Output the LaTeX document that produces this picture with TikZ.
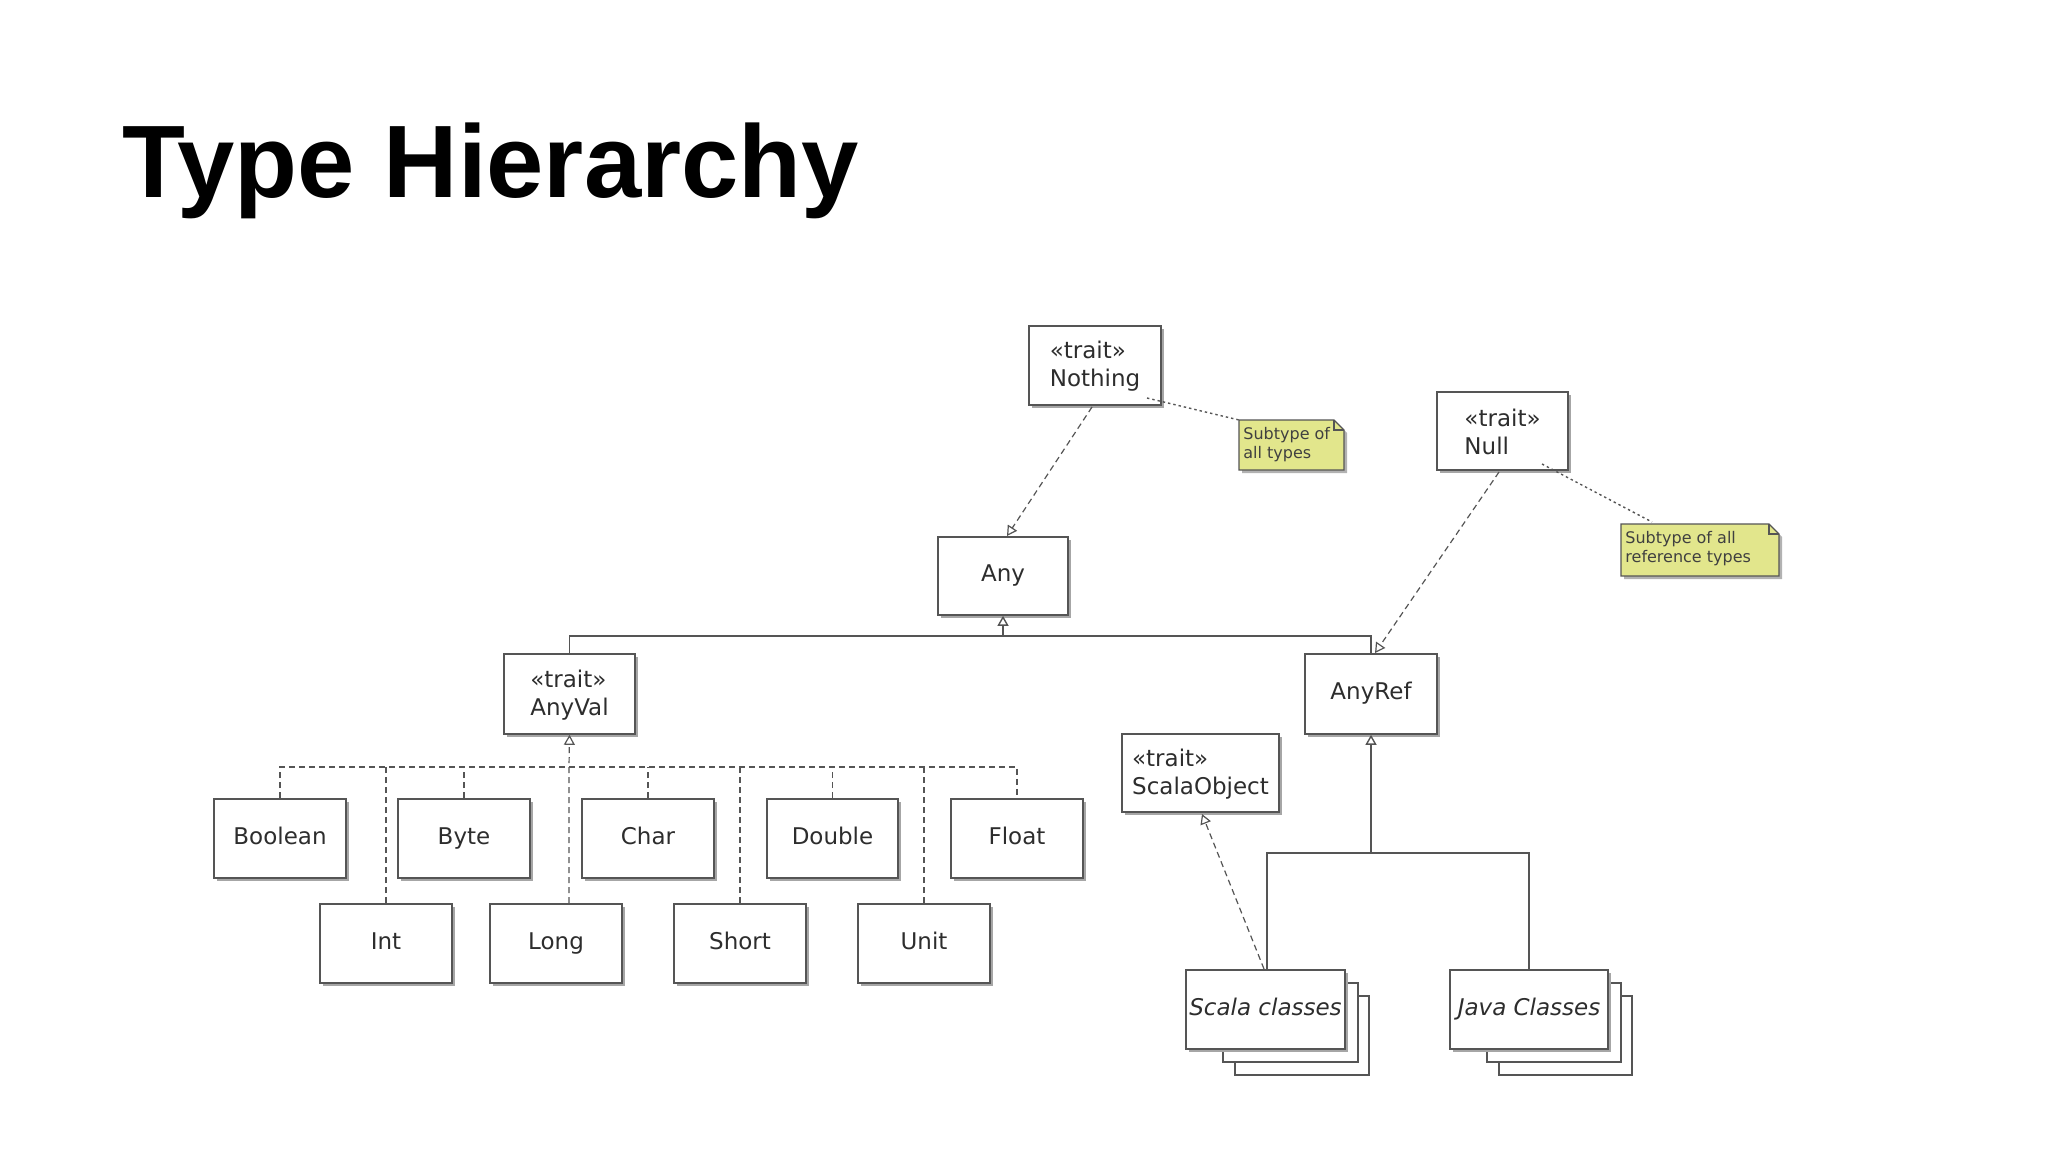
\documentclass[tikz,border=0pt]{standalone}
\usepackage{fontspec}
\setmainfont{DejaVu Sans}
\newfontfamily\titlefont{Liberation Sans}
\usetikzlibrary{arrows.meta,shadows}
\definecolor{ln}{RGB}{85,85,85}
\definecolor{tx}{RGB}{45,45,45}
\definecolor{notey}{RGB}{226,230,140}
\tikzset{
 box/.style={draw=ln,fill=white,line width=0.8pt,text=tx,font=\fontsize{11.5}{14}\selectfont,align=left,inner sep=0pt,
   general shadow={shadow xshift=1.5pt,shadow yshift=-1.5pt,fill=black!35}},
 inh/.style={draw=ln,line width=0.7pt,-{Triangle[open,length=5pt,width=5.5pt]}},
 sol/.style={draw=ln,line width=0.7pt},
 dsh/.style={draw=ln,line width=0.6pt,dash pattern=on 3pt off 2pt},
 dot/.style={draw=ln,line width=0.7pt,dash pattern=on 1.2pt off 1.5pt},
 notet/.style={text=black!75,font=\fontsize{8}{9.5}\selectfont,align=left,inner sep=0pt,anchor=north west},
}
\newcommand{\bx}[7][]{%
 \node[box,#1,minimum width={(#4-#2)*0.5pt},minimum height={(#5-#3)*0.5pt}] (#6) at ({(#2+#4)/2},{(#3+#5)/2}) {\strut#7};}
\newcommand{\stk}[4]{%
 \draw[sol,fill=white] (#1+49,#2+26) rectangle (#3+24,#4+26);
 \draw[sol,fill=white] (#1+37,#2+13) rectangle (#3+13,#4+13);}
\newcommand{\nt}[6]{%
 \path[draw=ln,line width=0.6pt,fill=notey,general shadow={shadow xshift=1.5pt,shadow yshift=-1.5pt,fill=black!30}] (#2,#3) -- (#4-10,#3) -- (#4,#3+10) -- (#4,#5) -- (#2,#5) -- cycle;
 \draw[ln,line width=0.6pt] (#4-10,#3) -- (#4-10,#3+10) -- (#4,#3+10);
 \coordinate (#1) at (#2,#3);
 \node[notet] (#1t) at (#2+4,#3+7) {#6};}
\begin{document}
\begin{tikzpicture}[x=0.5pt,y=-0.5pt]
\useasboundingbox (0,0) rectangle (2048,1152);
\node[anchor=base west,inner sep=0pt,font=\titlefont\bfseries\fontsize{51.5}{53}\selectfont] (title) at (122,197) {Type Hierarchy};
% boxes
\bx{1029}{326}{1161}{405}{nothing}{«trait»\\Nothing}
\bx{1437}{392}{1568}{470}{null}{«trait»\\Null}
\bx{938}{537}{1068}{615}{any}{Any}
\bx{504}{654}{635}{734}{anyval}{«trait»\\AnyVal}
\bx{1305}{654}{1437}{734}{anyref}{AnyRef}
\bx{1122}{734}{1279}{812}{scalaobj}{«trait»\\ScalaObject}
\bx{214}{799}{346}{878}{boolean}{Boolean}
\bx{398}{799}{530}{878}{byte}{Byte}
\bx{582}{799}{714}{878}{char}{Char}
\bx{767}{799}{898}{878}{double}{Double}
\bx{951}{799}{1083}{878}{float}{Float}
\bx{320}{904}{452}{983}{int}{Int}
\bx{490}{904}{622}{983}{long}{Long}
\bx{674}{904}{806}{983}{short}{Short}
\bx{858}{904}{990}{983}{unit}{Unit}
\stk{1186}{970}{1345}{1049}
\bx{1186}{970}{1345}{1049}{scala}{\itshape Scala classes}
\stk{1450}{970}{1608}{1049}
\bx{1450}{970}{1608}{1049}{java}{\itshape Java Classes}
% notes
\nt{n1}{1239}{420}{1344}{470}{Subtype of\\all types}
\nt{n2}{1621}{524}{1779}{576}{Subtype of all\\reference types}
% connectors
\draw[inh,dsh] (1092,407) -- (1007,536);
\draw[dot] (1147,398) -- (n1);
\draw[inh,dsh] (1499,472) -- (1375,653);
\draw[dot] (1542,464) -- (1652,522);
% Any hierarchy
\coordinate (bus) at (1003,636);
\draw[sol] (anyval.north) |- (bus) -| (anyref.north);
\draw[inh] (bus) -- (any.south);
% AnyVal children
\coordinate (vb) at (569,767);
\draw[dsh] (boolean.north) |- (float.north |- vb) -- (float.north);
\foreach \n in {byte,char,double} {\draw[dsh] (\n.north) -- (\n.north |- vb);}
\draw[dsh] (int.north -| 386,0) -- (386,767);
\draw[dsh] (short.north) -- (short.north |- vb);
\draw[dsh] (unit.north) -- (unit.north |- vb);
\draw[inh,dsh] (long.north -| vb) -- (vb) -- (anyval.south);
% AnyRef children
\coordinate (rb) at (1371,853);
\draw[inh] (rb) -- (anyref.south);
\draw[sol] (scala.north -| 1267,0) |- (rb) -| (java.north);
\draw[inh,dsh] (1264,969) -- (1202,814);
\end{tikzpicture}
\end{document}
